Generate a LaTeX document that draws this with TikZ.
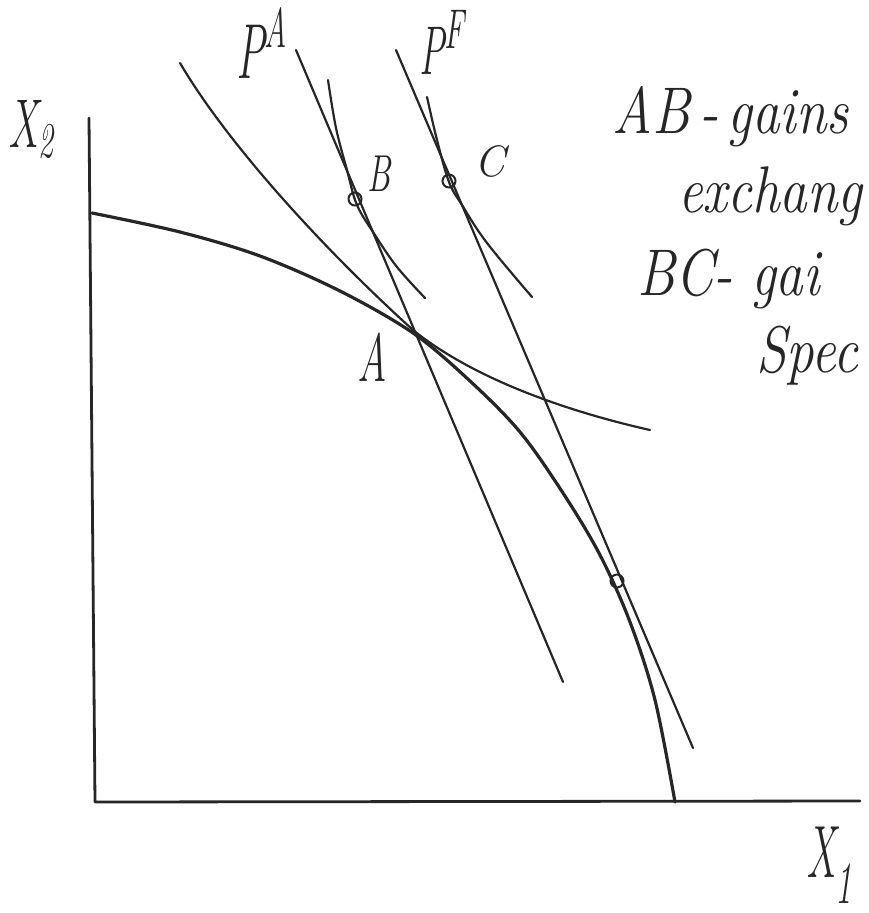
\documentclass[tikz,border=0pt]{standalone}
\begin{document}
\begin{tikzpicture}[x=1pt,y=-1pt,
  ink/.style={draw=black!85, line cap=round, line join=round},
  curve/.style={ink, line width=2.2pt},
  heavy/.style={ink, line width=3.2pt},
  axis/.style={ink, line width=2.8pt},
  pin/.style={circle, draw=black!85, line width=2pt, minimum size=13pt, inner sep=0pt},
  lab/.style={inner sep=0pt, text=black!85, anchor=base west},
  note/.style={inner sep=0pt, anchor=base west, text=black!85, font=\itshape\fontsize{55}{60}\selectfont}]
\useasboundingbox (0,0) rectangle (868,913);
\begin{scope}
\clip (0,0) rectangle (868,913);
% axes
\coordinate (ytop) at (89,118);
\coordinate (orig) at (95,802);
\coordinate (xend) at (860,801);
\draw[axis] (ytop) -- (orig) -- (xend);
% price lines
\coordinate (pa1) at (296,50);
\coordinate (pa2) at (563,682);
\coordinate (pf1) at (396,50);
\coordinate (pf2) at (693,748);
\draw[curve] (pa1) -- (pa2);
\draw[curve] (pf1) -- (pf2);
% production possibility frontier through A
\draw[heavy] plot[smooth, tension=0.55] coordinates {(92,213) (180,232) (260,256) (340,291) (413,333) (470,381) (520,432) (563,493) (600,555) (630,622) (655,700) (675,802)};
% indifference curve through A
\coordinate (ic1) at (180,63);
\coordinate (icA) at (413,330);
\coordinate (ic2) at (650,430);
\draw[curve] (ic1) .. controls (230,148) and (330,255) .. (icA)
                   .. controls (475,380) and (570,412) .. (ic2);
% indifference curve through B
\draw[curve] plot[smooth, tension=0.6] coordinates {(328,80) (336,128) (347,170) (357,205) (375,235) (397,267) (425,298)};
% indifference curve through C
\draw[curve] plot[smooth, tension=0.6] coordinates {(427,97) (437,140) (449,182) (462,205) (487,243) (532,297)};
% points
\node[pin] (B) at (355,199) {};
\node[pin] (C) at (449,181) {};
\node[pin] (D) at (617,581) {};
% labels
\node[lab, font=\itshape\fontsize{69}{69}\selectfont] (lX2) at (8,147) {\scalebox{0.6}[1]{X\raisebox{-10pt}{\fontsize{50}{50}\selectfont 2}}};
\node[lab, font=\itshape\fontsize{74}{74}\selectfont] (lX1) at (806,877) {\scalebox{0.55}[1]{X\raisebox{-26pt}{\fontsize{60}{60}\selectfont 1}}};
\node[lab, font=\itshape\fontsize{78}{78}\selectfont] (lPA) at (236,78) {\scalebox{0.55}[1]{P\raisebox{31pt}{\fontsize{56}{56}\selectfont A}}};
\node[lab, font=\itshape\fontsize{69}{69}\selectfont] (lPF) at (419,74) {\scalebox{0.55}[1]{P\raisebox{26pt}{\fontsize{56}{56}\selectfont F}}};
\node[lab, font=\itshape\fontsize{68}{68}\selectfont, anchor=center] (lA) at (372,357) {\scalebox{0.6}[1]{A}};
\node[lab, font=\itshape\fontsize{52}{52}\selectfont, anchor=center] (lB) at (379,174) {\scalebox{0.65}[1]{B}};
\node[lab, font=\itshape\fontsize{44}{44}\selectfont, anchor=center] (lC) at (490,161) {C};
% notes (ending at the right edge)
\node[note] (n1) at (612,133) {\scalebox{1}[1.2]{AB\,-\,gains}};
\node[note] (n2) at (678,212) {\scalebox{1}[1.2]{exchang}};
\node[note] (n3) at (637,295) {\scalebox{1}[1.2]{BC-\,\,gai}};
\node[note] (n4) at (756,372) {\scalebox{1}[1.2]{Spec}};
\end{scope}
\end{tikzpicture}
\end{document}
